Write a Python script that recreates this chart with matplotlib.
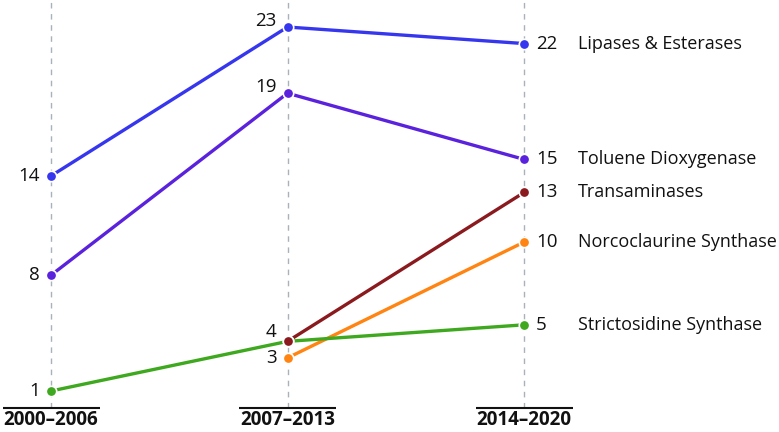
import matplotlib
matplotlib.use("Agg")
import matplotlib.pyplot as plt
import numpy as np

plt.rcParams['font.family'] = ['Open Sans', 'DejaVu Sans']

periods = ["2000–2006", "2007–2013", "2014–2020"]
names = ["Lipases & Esterases", "Toluene Dioxygenase", "Transaminases",
         "Norcoclaurine Synthase", "Strictosidine Synthase"]
lipases = [14, 23, 22]
toluene = [8, 19, 15]
transaminases = [None, 4, 13]
norcoclaurine = [None, 3, 10]
strictosidine = [1, 4, 5]
series = [lipases, toluene, transaminases, norcoclaurine, strictosidine]
colors = ["#3636ee", "#5a22dc", "#8b1a1f", "#ff8412", "#3ea81e"]

fig = plt.figure(figsize=(7.79, 4.32), dpi=100)
ax = fig.add_axes([0, 0, 1, 1])
ax.set_xlim(-0.2157, 3.078)
ax.set_ylim(-1.478, 24.633)
ax.axis('off')

txtc = "#111111"
for i, p in enumerate(periods):
    ax.plot([i, i], [-0.05, 25], ls=(0, (4, 4)), color="#a9b2ba", lw=1.0, zorder=0)
    ax.plot([i - 0.205, i + 0.205], [-0.03, -0.03], color=txtc, lw=1.5, solid_capstyle='butt')
    ax.text(i, -0.78, p, ha='center', va='center', fontsize=13.5, fontweight='bold', color=txtc)

for k, (vals, c, name) in enumerate(zip(series, colors, names)):
    xs = [i for i, v in enumerate(vals) if v is not None]
    ys = [v for v in vals if v is not None]
    ax.plot(xs, ys, color=c, lw=2.4, solid_capstyle='round', zorder=2)
    ax.plot(xs, ys, ls='none', marker='o', ms=7.5, mfc=c, mec='white', mew=1.2, zorder=10 - k)
    for x, y in zip(xs, ys):
        if x < 2:
            if k == 4 and x == 1:
                continue
            dy = 0
            if x == 1 and k in (0, 1):
                dy = 6
            if x == 1 and k == 2:
                dy = 9
            ax.annotate(str(y), (x, y), xytext=(-11, dy), textcoords='offset pixels',
                        ha='right', va='center', fontsize=13.5, color=txtc)
        else:
            ax.annotate(str(y), (x, y), xytext=(12, 0), textcoords='offset pixels',
                        ha='left', va='center', fontsize=13.5, color=txtc)
            ax.annotate(name, (x, y), xytext=(54, 0), textcoords='offset pixels',
                        ha='left', va='center', fontsize=13, color=txtc)

fig.savefig("out.png", dpi=100)
